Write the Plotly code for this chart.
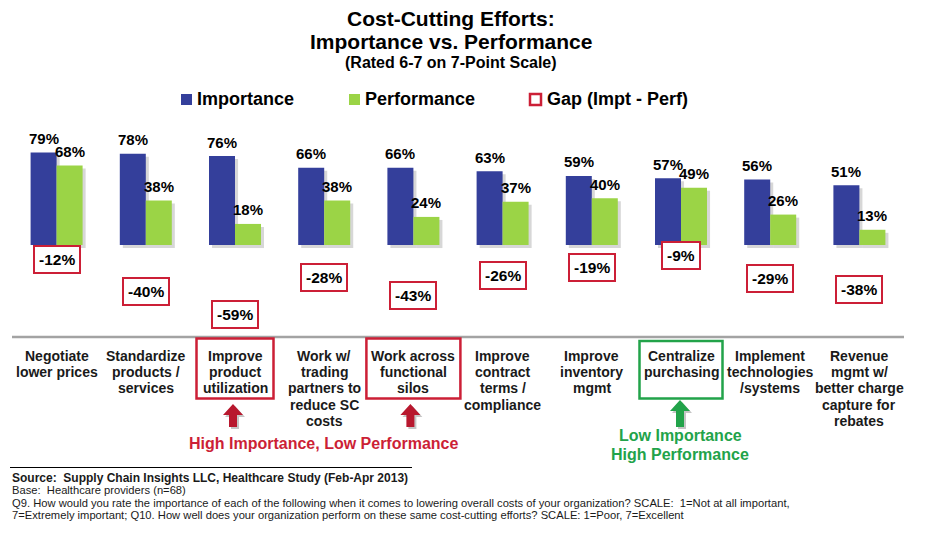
import plotly.graph_objects as go

# ---------------- data ----------------
categories = [
    "Negotiate<br>lower prices",
    "Standardize<br>products /<br>services",
    "Improve<br>product<br>utilization",
    "Work w/<br>trading<br>partners to<br>reduce SC<br>costs",
    "Work across<br>functional<br>silos",
    "Improve<br>contract<br>terms /<br>compliance",
    "Improve<br>inventory<br>mgmt",
    "Centralize<br>purchasing",
    "Implement<br>technologies<br>/systems",
    "Revenue<br>mgmt w/<br>better charge<br>capture for<br>rebates",
]
importance = [79, 78, 76, 66, 66, 63, 59, 57, 56, 51]
performance = [68, 38, 18, 38, 24, 37, 40, 49, 26, 13]
gap = [-12, -40, -59, -28, -43, -26, -19, -9, -29, -38]

series_names = ["Importance", "Performance", "Gap (Impt - Perf)"]
title_lines = ["Cost-Cutting Efforts:", "Importance vs. Performance", "(Rated 6-7 on 7-Point Scale)"]
callout_red = "High Importance, Low Performance"
callout_green = ["Low Importance", "High Performance"]
red_highlight = [2, 4]
green_highlight = [7]
source_lines = [
    "Source:\u00a0 Supply Chain Insights LLC, Healthcare Study (Feb-Apr 2013)",
    "Base:\u00a0 Healthcare providers (n=68)",
    "Q9. How would you rate the importance of each of the following when it comes to lowering overall costs of your organization? SCALE:\u00a0 1=Not at all important,",
    "7=Extremely important; Q10. How well does your organization perform on these same cost-cutting efforts? SCALE: 1=Poor, 7=Excellent",
]

# ---------------- style ----------------
W, H = 946, 534          # browser window
OFF = 8                  # page body margin
FW, FH = W - OFF, H - OFF
BLUE = "#343F9B"
GREEN = "#9BD446"
RED = "#CC1F36"
DKRED = "#B8182E"
DKGREEN = "#22A34A"
TXT = "#1a1a1a"
FONT = "Arial, 'Liberation Sans', sans-serif"
BW = 0.2915          # bar width in category units
X0, X1 = 12, 904     # plot area in window pixels
Y0, Y1 = 118, 337
GROUP = (X1 - X0) / len(categories)


def px(x):
    return (x - OFF) / FW


def py(y):
    return 1 - (y - OFF) / FH


def gx(i):
    return X0 + (i + 0.5) * GROUP


xs = list(range(len(categories)))
fig = go.Figure()

# soft shadows
for vals, off in [(importance, -BW), (performance, 0)]:
    fig.add_bar(x=xs, y=vals, base=-2.6, offset=off + 0.034, width=BW,
                marker=dict(color="rgba(110,110,110,0.28)", line_width=0),
                hoverinfo="skip", showlegend=False)

fig.add_bar(x=xs, y=importance, name=series_names[0], offset=-BW, width=BW,
            marker=dict(color=BLUE, line_width=0))
fig.add_bar(x=xs, y=performance, name=series_names[1], offset=0, width=BW,
            marker=dict(color=GREEN, line_width=0))

ann = []
shapes = []


def text(x, y, s, size, color=TXT, bold=True, xa="center", ya="middle", xref="paper", yref="paper", **kw):
    d = dict(x=x, y=y, xref=xref, yref=yref, text=s, showarrow=False, xanchor=xa, yanchor=ya,
             font=dict(family=FONT, size=size, color=color, weight="bold" if bold else "normal"))
    d.update(kw)
    ann.append(d)


# value labels
for i, v in enumerate(importance):
    text(i - BW / 2, v, f"{v}%", 15, "black", xref="x", yref="y", yshift=14)
for i, v in enumerate(performance):
    text(i + BW / 2, v, f"{v}%", 15, "black", xref="x", yref="y", yshift=14)

# gap boxes
for i, g in enumerate(gap):
    text(i, g, f"{g}%", 15.5, "black", xref="x", yref="y",
         bordercolor=RED, borderwidth=2, borderpad=4, bgcolor="white")

# category labels (one annotation per line)
for i, lab in enumerate(categories):
    for k, line in enumerate(lab.split("<br>")):
        text(i, py(356 + 16.2 * k), line, 14, TXT, xref="x")

# baseline rule under the chart
shapes.append(dict(type="line", xref="paper", yref="paper", x0=px(X0), x1=px(X1),
                   y0=py(337), y1=py(337), line=dict(color="#A3A3A3", width=2.5)))

# highlight boxes
box_half = {2: 38.5, 4: 47, 7: 41.5}
for i in red_highlight:
    c = gx(i)
    shapes.append(dict(type="rect", xref="paper", yref="paper", x0=px(c - box_half[i]),
                       x1=px(c + box_half[i]), y0=py(398.5), y1=py(338.5),
                       line=dict(color=RED, width=2.5)))
for i in green_highlight:
    c = gx(i)
    shapes.append(dict(type="rect", xref="paper", yref="paper", x0=px(c - box_half[i]),
                       x1=px(c + box_half[i]), y0=py(398.5), y1=py(341),
                       line=dict(color=DKGREEN, width=2.5)))


def up_arrow(cx, top, head_h, hw, sw, bottom):
    pts = [(cx, top), (cx + hw, top + head_h), (cx + sw, top + head_h), (cx + sw, bottom),
           (cx - sw, bottom), (cx - sw, top + head_h), (cx - hw, top + head_h)]
    return "M " + " L ".join(f"{px(a):.5f},{py(b):.5f}" for a, b in pts) + " Z"


arrows = [(gx(2) - 2, 404, DKRED), (gx(4) - 3, 404, DKRED), (gx(7) - 1, 400, DKGREEN)]
for cx, top, col in arrows:
    shapes.append(dict(type="path", xref="paper", yref="paper",
                       path=up_arrow(cx + 2, top + 2, 11, 10, 4, 429),
                       fillcolor="rgba(90,90,90,0.35)", line=dict(width=0)))
    shapes.append(dict(type="path", xref="paper", yref="paper",
                       path=up_arrow(cx, top, 11, 10, 4, 427),
                       fillcolor=col, line=dict(width=0)))

text(px(323), py(443), callout_red, 16, RED)
for k, line in enumerate(callout_green):
    text(px(gx(7) - 1), py(435 + 19 * k), line, 16, DKGREEN)

# title
for line, size, yc in zip(title_lines, [21, 21, 16], [18, 41, 62.5]):
    text(px(451), py(yc), line, size, "black")

# legend (drawn)
shapes.append(dict(type="rect", xref="paper", yref="paper", x0=px(181), x1=px(192),
                   y0=py(105), y1=py(94), fillcolor=BLUE, line=dict(width=0)))
shapes.append(dict(type="rect", xref="paper", yref="paper", x0=px(349), x1=px(360),
                   y0=py(105), y1=py(94), fillcolor=GREEN, line=dict(width=0)))
shapes.append(dict(type="rect", xref="paper", yref="paper", x0=px(530), x1=px(541),
                   y0=py(105), y1=py(94), fillcolor="white", line=dict(color=RED, width=2.5)))
for name, xl in zip(series_names, [195, 363, 545]):
    text(px(xl), py(99), name, 18, "black", xa="left")

# source block
shapes.append(dict(type="line", xref="paper", yref="paper", x0=px(10), x1=px(412),
                   y0=py(467.5), y1=py(467.5), line=dict(color="black", width=1.2)))
for k, (line, yc) in enumerate(zip(source_lines, [477.5, 490, 502.5, 515])):
    text(px(10), py(yc), line, 12 if k == 0 else 11.2, TXT, bold=(k == 0), xa="left")

fig.update_layout(
    width=FW, height=FH, margin=dict(l=0, r=0, t=0, b=0),
    paper_bgcolor="white", plot_bgcolor="white", showlegend=False, barmode="overlay",
    xaxis=dict(domain=[px(X0), px(X1)], range=[-0.5, len(categories) - 0.5], visible=False),
    yaxis=dict(domain=[py(Y1), py(Y0)], range=[-78.6, 108.5], visible=False),
    annotations=ann, shapes=shapes,
)

fig.write_html("out.html")
